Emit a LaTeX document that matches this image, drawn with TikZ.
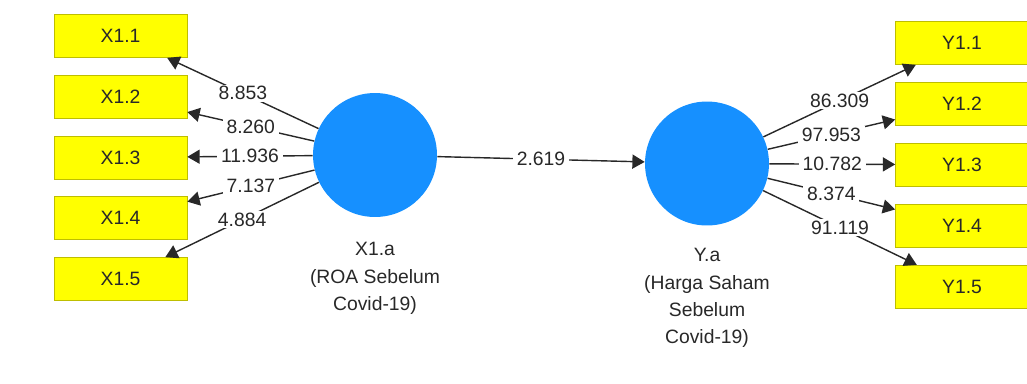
\documentclass[tikz,border=0pt]{standalone}
\usepackage{fontspec}
\setmainfont{Liberation Sans}
\usetikzlibrary{arrows.meta}

\definecolor{indyellow}{RGB}{255,255,0}
\definecolor{indborder}{RGB}{190,190,0}
\definecolor{latentblue}{RGB}{22,144,255}
\definecolor{inktext}{RGB}{40,40,40}

\begin{document}
\begin{tikzpicture}
		[x=0.02cm,y=-0.02cm,
		indbox/.style={rectangle,draw=indborder,fill=indyellow,minimum width=2.66cm,minimum height=0.86cm,inner sep=0pt,text=inktext,font=\fontsize{11}{13}\selectfont},
		latent/.style={circle,fill=latentblue,minimum size=2.48cm,inner sep=0pt},
		loading/.style={draw=inktext,line width=0.8pt,-{Triangle[length=7pt,width=8pt]}},
		coef/.style={midway,fill=white,inner xsep=2.2pt,inner ysep=1pt,text=inktext,font=\fontsize{11}{13}\selectfont},
		lvname/.style={align=center,anchor=north,inner sep=0pt,text=inktext,font=\fontsize{11}{15.6}\selectfont}]
		\useasboundingbox (0,0) rectangle (1027,383);
		
		% latent variables
		\node[latent] (X1a) at (375,155){};
		\node[latent] (Ya) at (707,163.5){};
		\node[lvname] at (375,242){X1.a\\(ROA Sebelum\\Covid-19)};
		\node[lvname] at (707,248){Y.a\\(Harga Saham\\Sebelum\\Covid-19)};
		
		% outer model, left
		\foreach \i/\val in {1/8.853,2/8.260,3/11.936,4/7.137,5/4.884}{
			\node[indbox] (X\i) at (120.5,{36+60.75*(\i-1)}){X1.\i};
			\draw[loading] (X1a) -- (X\i) node[coef]{\val};
		}
		
		% outer model, right
		\foreach \i/\val in {1/86.309,2/97.953,3/10.782,4/8.374,5/91.119}{
			\node[indbox] (Y\i) at (962,{43+60.9*(\i-1)}){Y1.\i};
			\draw[loading] (Ya) -- (Y\i) node[coef]{\val};
		}
		
		% inner model
		\draw[loading] (X1a) -- (Ya) node[coef]{2.619};
		
	\end{tikzpicture}
\end{document}
